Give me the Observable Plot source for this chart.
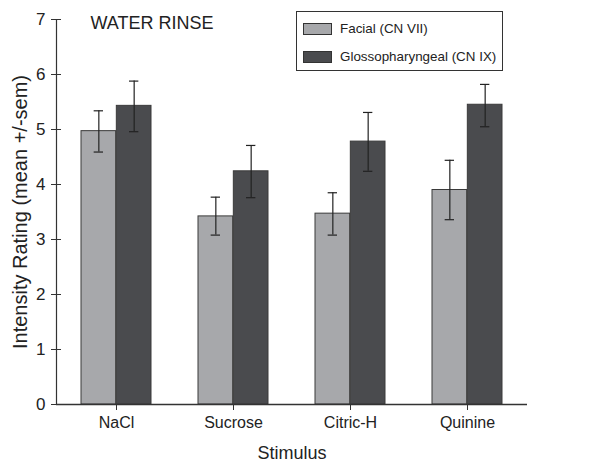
<!DOCTYPE html>
<html>
<head>
<meta charset="utf-8">
<script src="https://cdn.jsdelivr.net/npm/d3@7"></script>
<script src="https://cdn.jsdelivr.net/npm/@observablehq/plot@0.6"></script>
<style>
  html, body { margin: 0; padding: 0; background: #fff; }
  #wrap { position: relative; width: 611px; height: 463px; font-family: "Liberation Sans", Arial, sans-serif; }
  #legend { position: absolute; left: 296px; top: 11px; width: 205px; height: 58px; border: 1px solid #333; background: #fff; font-size: 13.4px; color: #222; }
  .item { position: absolute; left: 6px; display: flex; align-items: center; white-space: nowrap; }
  .sw { width: 27px; height: 10px; border: 1px solid #333; margin-right: 8px; flex: none; }
</style>
</head>
<body>
<div id="wrap"></div>
<script>
const stimuli = ["NaCl", "Sucrose", "Citric-H", "Quinine"];
const series = ["Facial (CN VII)", "Glossopharyngeal (CN IX)"];
const colors = ["#a7a8ab", "#4a4b4e"];
const facialMean = [4.97, 3.42, 3.47, 3.90];
const facialLo   = [4.59, 3.08, 3.08, 3.36];
const facialHi   = [5.34, 3.77, 3.85, 4.44];
const glossoMean = [5.43, 4.24, 4.78, 5.45];
const glossoLo   = [4.96, 3.76, 4.24, 5.05];
const glossoHi   = [5.88, 4.71, 5.31, 5.82];
const yTicks = [0, 1, 2, 3, 4, 5, 6, 7];

const W = 611, H = 463, mL = 56, mR = 84, mT = 19, mB = 59;
const pIn = 0.4, pOut = 0.2;
const step = (W - mL - mR) / (stimuli.length - pIn + 2 * pOut);
const bw = step * (1 - pIn);

const rows = [];
stimuli.forEach((s, i) => {
  rows.push({stim: s, series: series[0], k: 0, mean: facialMean[i], lo: facialLo[i], hi: facialHi[i]});
  rows.push({stim: s, series: series[1], k: 1, mean: glossoMean[i], lo: glossoLo[i], hi: glossoHi[i]});
});
const fac = rows.filter(d => d.k === 0), glo = rows.filter(d => d.k === 1);
const capW = 10;

const chart = Plot.plot({
  width: W, height: H,
  marginLeft: mL, marginRight: mR, marginTop: mT, marginBottom: mB,
  style: {fontFamily: "Liberation Sans, Arial, sans-serif", fontSize: "16px", color: "#222", background: "#fff", overflow: "visible"},
  x: {domain: stimuli, paddingInner: pIn, paddingOuter: pOut, align: 0.5},
  y: {domain: [0, 7]},
  color: {domain: series, range: colors},
  marks: [
    Plot.barY(fac, {x: "stim", y: "mean", fill: colors[0], stroke: "#3a3a3a", strokeWidth: 1, insetRight: bw / 2}),
    Plot.barY(glo, {x: "stim", y: "mean", fill: colors[1], stroke: "#3a3a3a", strokeWidth: 1, insetLeft: bw / 2}),
    Plot.ruleX(fac, {x: "stim", y1: "lo", y2: "hi", dx: -bw / 4, stroke: "#222", strokeWidth: 1.2}),
    Plot.ruleX(glo, {x: "stim", y1: "lo", y2: "hi", dx: bw / 4, stroke: "#222", strokeWidth: 1.2}),
    Plot.tickY(fac, {x: "stim", y: "lo", insetLeft: bw / 4 - capW / 2, insetRight: 3 * bw / 4 - capW / 2, stroke: "#222", strokeWidth: 1.2}),
    Plot.tickY(fac, {x: "stim", y: "hi", insetLeft: bw / 4 - capW / 2, insetRight: 3 * bw / 4 - capW / 2, stroke: "#222", strokeWidth: 1.2}),
    Plot.tickY(glo, {x: "stim", y: "lo", insetLeft: 3 * bw / 4 - capW / 2, insetRight: bw / 4 - capW / 2, stroke: "#222", strokeWidth: 1.2}),
    Plot.tickY(glo, {x: "stim", y: "hi", insetLeft: 3 * bw / 4 - capW / 2, insetRight: bw / 4 - capW / 2, stroke: "#222", strokeWidth: 1.2}),
    Plot.axisY({ticks: yTicks, tickFormat: d3.format("d"), tickSize: 10, dx: 5, tickPadding: 6, label: null, fontSize: 17, stroke: "#333"}),
    Plot.axisX({tickSize: 6, tickPadding: 6, label: null, fontSize: 16, stroke: "#333"}),
    Plot.frame({anchor: "left", stroke: "#333", strokeWidth: 1.2}),
    Plot.ruleY([0], {stroke: "#333", strokeWidth: 1.5}),
    Plot.text(["Intensity Rating (mean +/-sem)"], {frameAnchor: "left", textAnchor: "middle", lineAnchor: "middle", rotate: -90, dx: -36, fontSize: 20, fill: "#222"}),
    Plot.text(["Stimulus"], {frameAnchor: "bottom", lineAnchor: "middle", dy: 49, fontSize: 18, fill: "#222"}),
    Plot.text(["WATER RINSE"], {frameAnchor: "top-left", textAnchor: "start", lineAnchor: "middle", dx: 34, dy: 4, fontSize: 18, fill: "#222"})
  ]
});

const wrap = document.getElementById("wrap");
wrap.appendChild(chart);
const legend = document.createElement("div");
legend.id = "legend";
series.forEach((s, i) => {
  const it = document.createElement("div");
  it.className = "item";
  it.style.top = (i === 0 ? 9 : 37) + "px";
  const sw = document.createElement("span");
  sw.className = "sw";
  sw.style.background = colors[i];
  const tx = document.createElement("span");
  tx.textContent = s;
  it.appendChild(sw); it.appendChild(tx);
  legend.appendChild(it);
});
wrap.appendChild(legend);
</script>
</body>
</html>
